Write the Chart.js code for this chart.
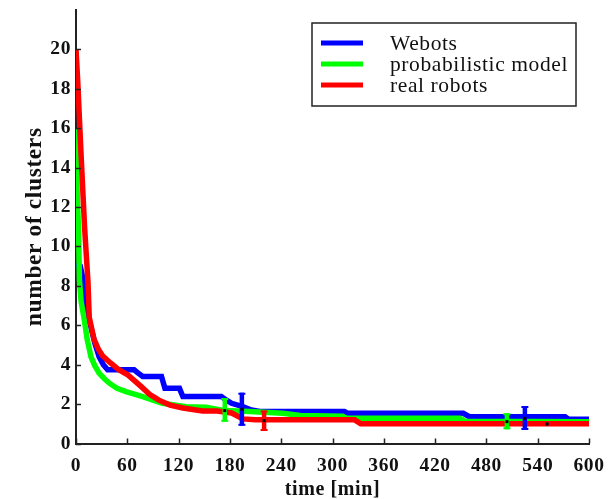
<!DOCTYPE html>
<html>
<head>
<meta charset="utf-8">
<script src="https://cdn.jsdelivr.net/npm/chart.js@4"></script>
<style>
  html, body { margin: 0; padding: 0; background: #fff; }
  #wrap { width: 609px; height: 499px; }
</style>
</head>
<body>
<div id="wrap"><canvas id="c" width="609" height="499"></canvas></div>
<script>
// Axis tick values
const xTicks = [0, 60, 120, 180, 240, 300, 360, 420, 480, 540, 600];
const yTicks = [0, 2, 4, 6, 8, 10, 12, 14, 16, 18, 20];

// Series names
const seriesNames = ['Webots', 'probabilistic model', 'real robots'];

// Webots: time [min] and number of clusters
const webotsTime = [0, 5, 8, 11, 14, 17.5, 22, 27, 32, 37, 68, 72, 78, 100, 104, 121, 125, 170, 176, 182, 195, 205, 215, 314, 318, 453, 460, 572, 576, 600];
const webotsClusters = [9.1, 9.0, 8.4, 7.3, 6.4, 5.9, 5.1, 4.4, 4.0, 3.74, 3.74, 3.6, 3.4, 3.4, 2.8, 2.8, 2.38, 2.38, 2.2, 2.04, 1.87, 1.7, 1.62, 1.62, 1.53, 1.53, 1.36, 1.36, 1.23, 1.23];

// Probabilistic model
const modelTime = [0, 0.5, 1.5, 3, 4, 6, 9.7, 13, 17.5, 22, 27, 33, 39, 48, 58.5, 78, 101, 128.7, 152, 164.5, 174, 203, 242, 262, 312, 316, 449, 455, 600];
const modelClusters = [16, 14.7, 12.5, 10.8, 8.3, 7.2, 6.28, 5.3, 4.4, 3.95, 3.57, 3.3, 3.06, 2.8, 2.63, 2.38, 2.04, 1.87, 1.84, 1.74, 1.67, 1.62, 1.53, 1.42, 1.38, 1.28, 1.28, 1.13, 1.11];

// Real robots
const realTime = [0, 2, 4, 6, 8, 10, 12, 14, 15.5, 18, 21, 26, 31, 40, 50, 60, 68, 76, 86, 97, 110, 125, 148, 165, 182, 195, 210, 326, 333, 600];
const realClusters = [20, 18.4, 16.5, 14.6, 12.8, 11, 9.6, 8.2, 6.4, 5.9, 5.3, 4.8, 4.45, 4.1, 3.75, 3.5, 3.2, 2.9, 2.5, 2.2, 1.95, 1.8, 1.65, 1.65, 1.55, 1.25, 1.2, 1.2, 1.0, 1.0];

// Spread bars: time, lower, upper, mean
const webotsErrTime = [194, 525];
const webotsErrLow = [0.9, 0.69];
const webotsErrHigh = [2.58, 1.9];
const webotsErrMean = [1.74, 1.28];

const modelErrTime = [174, 504];
const modelErrLow = [1.11, 0.72];
const modelErrHigh = [2.31, 1.53];
const modelErrMean = [1.67, 1.11];

const realErrTime = [220, 551];
const realErrLow = [0.64, 0.92];
const realErrHigh = [1.67, 1.08];
const realErrMean = [1.16, 0.99];

const colors = ['#0000ff', '#00ff00', '#ff0000'];

function pts(xs, ys) { return xs.map((x, i) => ({ x: x, y: ys[i] })); }

const errSets = [
  { color: colors[0], t: webotsErrTime, lo: webotsErrLow, hi: webotsErrHigh, m: webotsErrMean },
  { color: colors[1], t: modelErrTime, lo: modelErrLow, hi: modelErrHigh, m: modelErrMean },
  { color: colors[2], t: realErrTime, lo: realErrLow, hi: realErrHigh, m: realErrMean }
];

const serif = '"Liberation Serif", "Times New Roman", serif';

// Slightly open letter spacing for all text on the canvas
const spacingPlugin = {
  id: 'spacing',
  beforeInit(chart) { chart.ctx.letterSpacing = '0.6px'; },
  beforeDraw(chart) { chart.ctx.letterSpacing = '0.6px'; }
};

// Vertical spread bars with short caps and a black mean dot
const errorBarPlugin = {
  id: 'errorBars',
  afterDatasetsDraw(chart) {
    const ctx = chart.ctx, xs = chart.scales.x, ys = chart.scales.y;
    ctx.save();
    errSets.forEach(s => {
      s.t.forEach((t, i) => {
        const px = xs.getPixelForValue(t);
        const pLo = ys.getPixelForValue(s.lo[i]);
        const pHi = ys.getPixelForValue(s.hi[i]);
        ctx.strokeStyle = s.color;
        ctx.lineWidth = 4.5;
        ctx.beginPath();
        ctx.moveTo(px, pLo); ctx.lineTo(px, pHi);
        ctx.stroke();
        ctx.lineWidth = 2;
        ctx.beginPath();
        ctx.moveTo(px - 3.5, pHi + 1); ctx.lineTo(px + 3.5, pHi + 1);
        ctx.moveTo(px - 3.5, pLo - 1); ctx.lineTo(px + 3.5, pLo - 1);
        ctx.stroke();
        const pm = ys.getPixelForValue(s.m[i]);
        ctx.fillStyle = '#000';
        ctx.fillRect(px - 1.5, pm - 1.5, 3, 3);
      });
    });
    ctx.restore();
  }
};

// Short tick marks pointing into the plot area
const innerTicksPlugin = {
  id: 'innerTicks',
  afterDraw(chart) {
    const ctx = chart.ctx, xs = chart.scales.x, ys = chart.scales.y, a = chart.chartArea;
    ctx.save();
    ctx.strokeStyle = '#222';
    ctx.lineWidth = 1.5;
    ctx.beginPath();
    xTicks.forEach(v => {
      const p = Math.round(xs.getPixelForValue(v)) + 0.5;
      ctx.moveTo(p, a.bottom); ctx.lineTo(p, a.bottom - 5);
    });
    yTicks.forEach(v => {
      const p = Math.round(ys.getPixelForValue(v)) + 0.5;
      ctx.moveTo(a.left, p); ctx.lineTo(a.left + 5, p);
    });
    ctx.stroke();
    ctx.restore();
  }
};

// Boxed legend inside the plot's upper right
const boxLegendPlugin = {
  id: 'boxLegend',
  afterDraw(chart) {
    const ctx = chart.ctx;
    const box = { x: 312, y: 23, w: 264, h: 83 };
    ctx.save();
    ctx.fillStyle = '#fff';
    ctx.fillRect(box.x, box.y, box.w, box.h);
    ctx.strokeStyle = '#222';
    ctx.lineWidth = 1.5;
    ctx.strokeRect(box.x, box.y, box.w, box.h);
    ctx.font = '21.5px ' + serif;
    ctx.textBaseline = 'middle';
    ctx.fillStyle = '#111';
    chart.data.datasets.forEach((ds, i) => {
      const y = 43 + i * 21;
      ctx.strokeStyle = ds.borderColor;
      ctx.lineWidth = 5;
      ctx.beginPath();
      ctx.moveTo(321, y); ctx.lineTo(363, y);
      ctx.stroke();
      ctx.fillText(ds.label, 390, y + 1);
    });
    ctx.restore();
  }
};

const lineStyle = { showLine: true, pointRadius: 0, borderWidth: 5.5, tension: 0, fill: false };

new Chart(document.getElementById('c'), {
  type: 'scatter',
  data: {
    datasets: [
      Object.assign({ label: seriesNames[0], data: pts(webotsTime, webotsClusters), borderColor: colors[0], backgroundColor: colors[0], order: 2 }, lineStyle),
      Object.assign({ label: seriesNames[1], data: pts(modelTime, modelClusters), borderColor: colors[1], backgroundColor: colors[1], order: 1 }, lineStyle),
      Object.assign({ label: seriesNames[2], data: pts(realTime, realClusters), borderColor: colors[2], backgroundColor: colors[2], order: 0 }, lineStyle)
    ]
  },
  options: {
    responsive: false,
    animation: false,
    events: [],
    layout: { autoPadding: false, padding: { left: 0, right: 20, top: 10, bottom: 0 } },
    plugins: { legend: { display: false }, tooltip: { enabled: false } },
    scales: {
      x: {
        type: 'linear',
        min: 0, max: 600,
        afterFit(s) { s.height = 55.5; s.paddingLeft = 0; s.paddingRight = 0; },
        afterBuildTicks(s) { s.ticks = xTicks.map(v => ({ value: v })); },
        grid: { display: false, drawTicks: false },
        border: { display: true, color: '#222', width: 2 },
        ticks: { autoSkip: false, maxRotation: 0, padding: 11, color: '#111', font: { family: serif, size: 19.5, weight: 'bold' } },
        title: { display: true, text: 'time [min]', color: '#111', padding: { top: 0, bottom: -3 }, font: { family: serif, size: 20, weight: 'bold' } }
      },
      y: {
        type: 'linear',
        min: 0, max: 22,
        afterFit(s) { s.width = 76; s.paddingTop = 0; s.paddingBottom = 0; },
        afterBuildTicks(s) { s.ticks = yTicks.map(v => ({ value: v })); },
        grid: { display: false, drawTicks: false },
        border: { display: true, color: '#222', width: 2 },
        ticks: { autoSkip: false, padding: 5, color: '#111', font: { family: serif, size: 19.5, weight: 'bold' } },
        title: { display: true, text: 'number of clusters', color: '#111', padding: { top: 21, bottom: 0 }, font: { family: serif, size: 23.5, weight: 'bold' } }
      }
    }
  },
  plugins: [spacingPlugin, errorBarPlugin, innerTicksPlugin, boxLegendPlugin]
});
</script>
</body>
</html>
